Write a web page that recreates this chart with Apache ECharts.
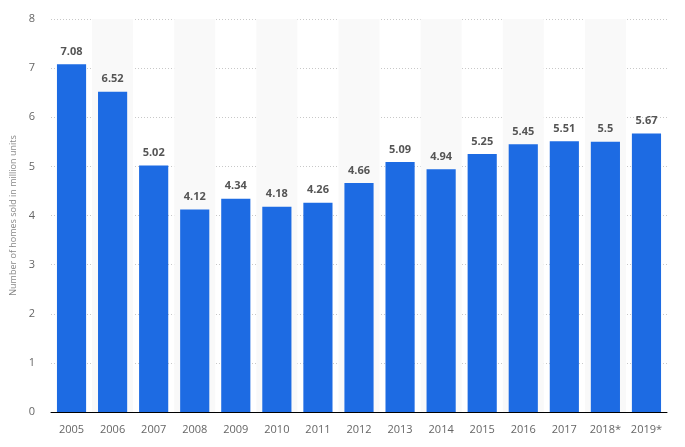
<!DOCTYPE html>
<html>
<head>
<meta charset="utf-8">
<script src="https://cdn.jsdelivr.net/npm/echarts@6/dist/echarts.min.js"></script>
<style>html,body{margin:0;padding:0;background:#fff}#c{width:685px;height:447px}</style>
</head>
<body>
<div id="c"></div>
<script>
const years = ['2005','2006','2007','2008','2009','2010','2011','2012','2013','2014','2015','2016','2017','2018*','2019*'];
const homesSold = [7.08,6.52,5.02,4.12,4.34,4.18,4.26,4.66,5.09,4.94,5.25,5.45,5.51,5.5,5.67];
const yTicks = {min:0, max:8, interval:1};

const chart = echarts.init(document.getElementById('c'), null, {renderer:'canvas'});
chart.setOption({
  animation:false,
  grid:{left:51, right:18, top:19, bottom:35},
  xAxis:{
    type:'category', data:years,
    axisLine:{lineStyle:{color:'#000', width:1}},
    axisTick:{show:false},
    axisLabel:{color:'#666', fontSize:11, fontFamily:'Open Sans, sans-serif', margin:12},
    splitArea:{show:true, interval:0, areaStyle:{color:['rgba(255,255,255,0)','#f9f9f9']}}
  },
  yAxis:{
    type:'value', min:yTicks.min, max:yTicks.max, interval:yTicks.interval,
    name:'Number of homes sold in million units', nameLocation:'middle', nameGap:31,
    nameTextStyle:{color:'#888', fontSize:9, fontFamily:'Open Sans, sans-serif'},
    axisLine:{show:false}, axisTick:{show:false},
    axisLabel:{color:'#666', fontSize:11, fontFamily:'Open Sans, sans-serif', margin:16},
    splitLine:{lineStyle:{color:'#c8c8c8', type:[1,2], width:1}}
  },
  series:[{
    type:'bar', data:homesSold, barWidth:'71%',
    itemStyle:{color:'#1d6be3'},
    label:{show:true, position:'top', distance:7, color:'#555', fontSize:11, fontWeight:'bold', fontFamily:'Open Sans, sans-serif'}
  }]
});
</script>
</body>
</html>
